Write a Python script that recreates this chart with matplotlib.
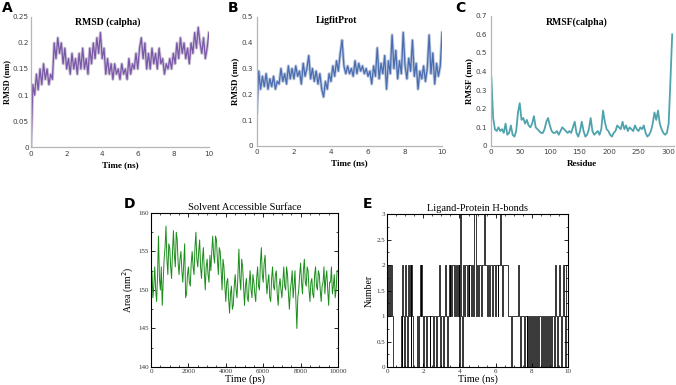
import numpy as np
import matplotlib
matplotlib.use("Agg")
import matplotlib.pyplot as plt
from matplotlib.ticker import FuncFormatter, MultipleLocator

# ---- data ----
# A: RMSD (calpha), nm, 0..10 ns
rmsd_ca = [0.00, 0.12, 0.10, 0.14, 0.11, 0.15, 0.12, 0.16, 0.13, 0.15,
           0.12, 0.14, 0.13, 0.20, 0.17, 0.21, 0.18, 0.20, 0.16, 0.19,
           0.15, 0.17, 0.14, 0.18, 0.15, 0.17, 0.14, 0.18, 0.15, 0.19,
           0.15, 0.17, 0.14, 0.19, 0.16, 0.20, 0.17, 0.21, 0.18, 0.22,
           0.17, 0.19, 0.14, 0.17, 0.14, 0.16, 0.13, 0.16, 0.14, 0.15,
           0.13, 0.16, 0.14, 0.15, 0.13, 0.17, 0.14, 0.16, 0.15, 0.18,
           0.15, 0.19, 0.21, 0.17, 0.20, 0.15, 0.18, 0.15, 0.19, 0.16,
           0.18, 0.15, 0.19, 0.16, 0.17, 0.14, 0.16, 0.15, 0.17, 0.15,
           0.18, 0.16, 0.20, 0.17, 0.21, 0.18, 0.20, 0.17, 0.19, 0.16,
           0.20, 0.18, 0.22, 0.19, 0.23, 0.20, 0.18, 0.21, 0.17, 0.19,
           0.22]

# B: LigfitProt RMSD, nm, 0..10 ns
rmsd_lig = [0.13, 0.29, 0.22, 0.27, 0.23, 0.28, 0.22, 0.26, 0.23, 0.27,
            0.22, 0.25, 0.24, 0.30, 0.25, 0.28, 0.24, 0.31, 0.26, 0.30,
            0.26, 0.31, 0.27, 0.29, 0.24, 0.32, 0.27, 0.30, 0.35, 0.26,
            0.30, 0.25, 0.29, 0.24, 0.28, 0.22, 0.19, 0.25, 0.22, 0.28,
            0.25, 0.31, 0.27, 0.33, 0.29, 0.36, 0.41, 0.31, 0.28, 0.31,
            0.28, 0.30, 0.27, 0.33, 0.28, 0.32, 0.29, 0.31, 0.28, 0.30,
            0.27, 0.29, 0.24, 0.31, 0.27, 0.38, 0.26, 0.32, 0.28, 0.35,
            0.22, 0.33, 0.28, 0.43, 0.30, 0.37, 0.26, 0.33, 0.28, 0.44,
            0.31, 0.26, 0.34, 0.29, 0.41, 0.27, 0.32, 0.22, 0.29, 0.26,
            0.31, 0.25, 0.30, 0.43, 0.28, 0.36, 0.24, 0.32, 0.27, 0.31,
            0.44]

# C: RMSF (calpha), nm, every 3rd residue from 1
rmsf = [0.37, 0.15, 0.09, 0.08, 0.10, 0.08, 0.09, 0.07, 0.12, 0.06,
        0.07, 0.11, 0.06, 0.05, 0.08, 0.18, 0.23, 0.14, 0.15, 0.12,
        0.14, 0.11, 0.10, 0.12, 0.16, 0.10, 0.09, 0.08, 0.07, 0.07,
        0.09, 0.13, 0.15, 0.11, 0.08, 0.07, 0.07, 0.08, 0.06, 0.08,
        0.10, 0.09, 0.08, 0.07, 0.08, 0.07, 0.10, 0.13, 0.07, 0.05,
        0.08, 0.13, 0.08, 0.05, 0.06, 0.09, 0.15, 0.08, 0.06, 0.07,
        0.08, 0.06, 0.09, 0.19, 0.13, 0.09, 0.08, 0.06, 0.05, 0.07,
        0.08, 0.11, 0.10, 0.09, 0.13, 0.09, 0.11, 0.08, 0.10, 0.09,
        0.08, 0.11, 0.09, 0.08, 0.10, 0.09, 0.11, 0.07, 0.05, 0.06,
        0.08, 0.12, 0.18, 0.14, 0.19, 0.12, 0.09, 0.07, 0.06, 0.07,
        0.12, 0.35, 0.60]

# D: SASA, nm^2, every 50 ps from 0 to 10000 ps
sasa = [151.0, 152.5, 149.0, 150.5, 153.0, 150.0, 148.5, 152.0, 157.0, 151.5,
        150.0, 153.0, 148.0, 151.0, 154.0, 155.5, 158.3, 154.0, 152.0, 156.0,
        155.5, 153.0, 151.5, 155.0, 157.7, 154.5, 153.0, 157.5, 156.5, 153.5,
        152.0, 154.0, 155.0, 152.5, 151.0, 153.5, 156.0, 149.0, 149.5, 152.0,
        153.0, 151.0, 150.5, 153.5, 155.0, 153.0, 152.0, 155.5, 157.5, 154.0,
        153.0, 155.0, 156.5, 153.0, 151.5, 154.0, 155.5, 152.5, 150.0, 153.0,
        154.0, 152.0, 151.0, 154.5, 152.5, 155.0, 157.0, 154.5, 153.5, 157.0,
        156.5, 154.0, 152.0, 155.5, 155.0, 152.5, 150.0, 154.0, 153.0, 150.5,
        148.5, 151.0, 151.5, 149.0, 147.0, 149.5, 150.5, 147.5, 148.0, 150.5,
        152.0, 150.0, 149.0, 152.0, 155.3, 151.5, 150.0, 154.0, 153.0, 150.5,
        148.0, 150.5, 151.5, 149.0, 148.5, 151.0, 152.5, 150.0, 149.0, 152.0,
        151.0, 149.5, 148.5, 151.5, 153.0, 150.5, 150.0, 153.5, 155.5, 152.0,
        151.0, 153.5, 154.5, 151.5, 149.5, 151.0, 152.0, 149.0, 148.5, 151.5,
        153.0, 150.5, 150.0, 152.0, 152.5, 149.5, 148.0, 150.5, 151.5, 150.0,
        149.0, 151.0, 153.0, 150.5, 150.0, 153.0, 152.0, 149.5, 147.5, 150.0,
        151.0, 152.5, 149.0, 150.5, 152.5, 148.5, 145.0, 149.0, 150.0, 152.0,
        153.5, 151.0, 149.5, 152.5, 154.0, 151.0, 150.5, 153.0, 152.5, 150.0,
        148.5, 151.0, 151.5, 149.5, 149.0, 152.0, 153.0, 150.5, 150.0, 152.5,
        152.0, 150.0, 148.5, 150.5, 151.0, 153.0, 149.5, 151.5, 152.5, 150.0,
        148.0, 151.0, 151.0, 153.0, 149.5, 150.5, 152.0, 149.0, 150.0, 152.5,
        152.5]

# E: ligand-protein H-bond count, every 0.05 ns
hbonds = [int(c) for c in
          "21212210000000010210"
          "21021202100001012121"
          "01101110111011011210"
          "11012101212122121212"
          "03102122121221213312"
          "21221223221221221221"
          "22122321222222111011"
          "11111210111011010101"
          "01011010110101011010"
          "10110121012101211022"
          "1"]

serif = "Liberation Serif"
fmt_g = FuncFormatter(lambda v, p: "%g" % round(v, 4))

fig = plt.figure(figsize=(6.76, 3.85), dpi=100)


def excel_axes(rect):
    ax = fig.add_axes(rect)
    for s in ["top", "right"]:
        ax.spines[s].set_visible(False)
    for s in ["left", "bottom"]:
        ax.spines[s].set_color("#b5b5b5")
        ax.spines[s].set_linewidth(0.9)
    ax.tick_params(length=0, labelsize=5.2, labelcolor="#404040", pad=2.5)
    ax.yaxis.set_major_formatter(fmt_g)
    return ax


def grace_axes(rect):
    ax = fig.add_axes(rect)
    for s in ax.spines.values():
        s.set_linewidth(0.8)
    ax.tick_params(which="both", direction="in", top=True, right=True,
                   labelsize=5, labelcolor="#333333", pad=1.5)
    ax.tick_params(which="major", length=3, width=0.6)
    ax.tick_params(which="minor", length=1.5, width=0.5)
    ax.yaxis.set_major_formatter(fmt_g)
    return ax


def serif_ticks(ax):
    for lab in ax.get_xticklabels() + ax.get_yticklabels():
        lab.set_family(serif)


# A
axA = excel_axes([0.046, 0.618, 0.263, 0.338])
tA = np.linspace(0, 10, len(rmsd_ca))
axA.plot(tA, rmsd_ca, color="#cdc6d8", lw=2.2)
axA.plot(tA, rmsd_ca, color="#7b57a8", lw=0.9)
axA.set_xlim(0, 10)
axA.set_ylim(0, 0.25)
axA.set_xticks(range(0, 11, 2))
axA.set_yticks(np.arange(0, 0.26, 0.05))
axA.tick_params(axis="y", pad=1.5)
axA.text(0.43, 0.96, "RMSD (calpha)", transform=axA.transAxes, ha="center",
         va="center", family=serif, fontweight="bold", fontsize=7)
axA.set_xlabel("Time (ns)", family=serif, fontweight="bold", fontsize=6.5, labelpad=3)
axA.set_ylabel("RMSD (nm)", family=serif, fontweight="bold", fontsize=6, labelpad=1)

# B
axB = excel_axes([0.380, 0.621, 0.274, 0.335])
tB = np.linspace(0, 10, len(rmsd_lig))
axB.plot(tB, rmsd_lig, color="#b9c6dc", lw=2.2)
axB.plot(tB, rmsd_lig, color="#4a6cb0", lw=0.9)
axB.set_xlim(0, 10)
axB.set_ylim(0, 0.5)
axB.set_xticks(range(0, 11, 2))
axB.set_yticks(np.arange(0, 0.51, 0.1))
axB.text(0.43, 0.97, "LigfitProt", transform=axB.transAxes, ha="center",
         va="center", family=serif, fontweight="bold", fontsize=7)
axB.set_xlabel("Time (ns)", family=serif, fontweight="bold", fontsize=6.5, labelpad=3)
axB.set_ylabel("RMSD (nm)", family=serif, fontweight="bold", fontsize=6.5, labelpad=2)

# C
axC = excel_axes([0.726, 0.621, 0.271, 0.338])
resid = np.arange(len(rmsf)) * 3 + 1
axC.plot(resid, rmsf, color="#4fa3ad", lw=1.3)
axC.set_xlim(0, 310)
axC.set_ylim(0, 0.7)
axC.set_xticks(range(0, 301, 50))
axC.set_yticks(np.arange(0, 0.71, 0.1))
axC.text(0.47, 0.95, "RMSF(calpha)", transform=axC.transAxes, ha="center",
         va="center", family=serif, fontweight="bold", fontsize=7)
axC.set_xlabel("Residue", family=serif, fontweight="bold", fontsize=6.5, labelpad=3)
axC.set_ylabel("RMSF (nm)", family=serif, fontweight="bold", fontsize=6.5, labelpad=2)

# D
axD = grace_axes([0.2234, 0.0468, 0.2766, 0.400])
tD = np.linspace(0, 10000, len(sasa))
axD.plot(tD, sasa, color="#1a8c1a", lw=0.7)
axD.set_xlim(0, 10000)
axD.set_ylim(140, 160)
axD.set_xticks(range(0, 10001, 2000))
axD.set_yticks(range(140, 161, 5))
axD.xaxis.set_minor_locator(MultipleLocator(500))
axD.yaxis.set_minor_locator(MultipleLocator(2.5))
serif_ticks(axD)
axD.set_title("Solvent Accessible Surface", family=serif, fontsize=7.5, pad=2)
axD.set_xlabel("Time (ps)", family=serif, fontsize=7.5, labelpad=0)
axD.set_ylabel("Area (nm$^2$)", family=serif, fontsize=7, labelpad=2)

# E
axE = grace_axes([0.5725, 0.0468, 0.268, 0.397])
tE = np.arange(len(hbonds)) * 0.05
axE.plot(tE, hbonds, color="black", lw=0.55, drawstyle="steps-post")
axE.set_xlim(0, 10)
axE.set_ylim(0, 3)
axE.set_xticks(range(0, 11, 2))
axE.set_yticks(np.arange(0, 3.01, 0.5))
axE.xaxis.set_minor_locator(MultipleLocator(0.5))
axE.yaxis.set_minor_locator(MultipleLocator(0.25))
serif_ticks(axE)
axE.set_title("Ligand-Protein H-bonds", family=serif, fontsize=7.5, pad=2)
axE.set_xlabel("Time (ns)", family=serif, fontsize=7.5, labelpad=0)
axE.set_ylabel("Number", family=serif, fontsize=7, labelpad=2)

# panel letters
for x, y, s in [(0.003, 0.998, "A"), (0.337, 0.998, "B"), (0.673, 0.998, "C"),
                (0.183, 0.488, "D"), (0.536, 0.488, "E")]:
    fig.text(x, y, s, ha="left", va="top", fontsize=10, fontweight="bold")

fig.savefig("out.png", dpi=100)
